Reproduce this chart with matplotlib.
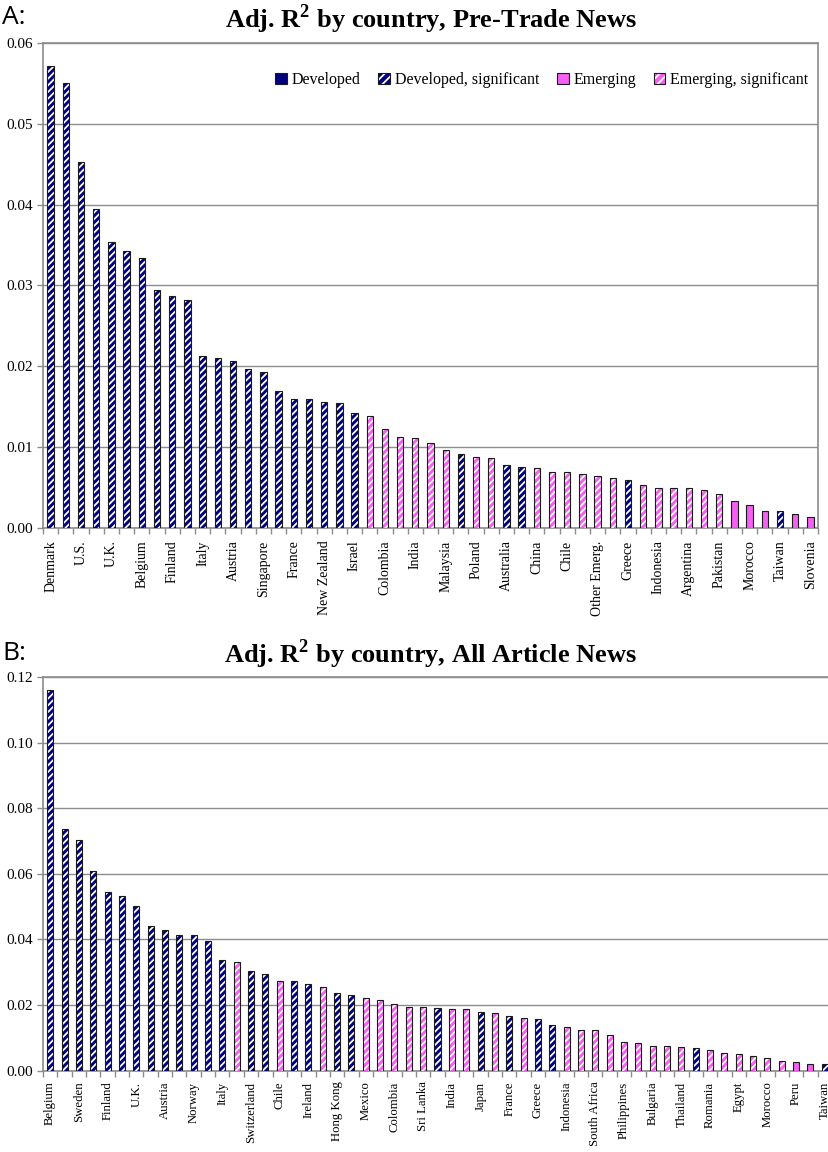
import matplotlib
matplotlib.use('Agg')
import matplotlib.pyplot as plt
import numpy as np
from matplotlib.patches import Patch
from matplotlib.ticker import FixedLocator, FormatStrFormatter

plt.rcParams['font.family'] = ['Liberation Serif', 'DejaVu Serif']
plt.rcParams['mathtext.fontset'] = 'custom'
plt.rcParams['mathtext.rm'] = 'Liberation Serif:bold'
plt.rcParams['mathtext.bf'] = 'Liberation Serif:bold'
plt.rcParams['hatch.linewidth'] = 1.3

NAVY = '#000080'
PINK = '#F55FF2'
GRAY = '#8c8c8c'

#%% data, panel A (Pre-Trade News)

a_names = ['Denmark', 'U.S.', 'U.K.', 'Belgium', 'Finland', 'Italy', 'Austria',
           'Singapore', 'France', 'New Zealand', 'Israel', 'Colombia', 'India',
           'Malaysia', 'Poland', 'Australia', 'China', 'Chile', 'Other Emerg.',
           'Greece', 'Indonesia', 'Argentina', 'Pakistan', 'Morocco', 'Taiwan',
           'Slovenia']
a_values = [0.0571, 0.0551, 0.0453, 0.0395, 0.0354, 0.0343, 0.0334, 0.0295,
            0.0287, 0.0282, 0.0213, 0.0210, 0.0207, 0.0197, 0.0193, 0.0169,
            0.0160, 0.0160, 0.0156, 0.0155, 0.0142, 0.0138, 0.0123, 0.0112,
            0.0111, 0.0105, 0.0097, 0.0091, 0.0088, 0.0086, 0.0078, 0.0075,
            0.0074, 0.0069, 0.0069, 0.0067, 0.0064, 0.0062, 0.0059, 0.0053,
            0.0050, 0.0050, 0.0050, 0.0047, 0.0042, 0.0033, 0.0028, 0.0021,
            0.0021, 0.0017, 0.0014]
a_groups = ['DS'] * 21 + ['ES'] * 6 + ['DS'] + ['ES'] * 2 + ['DS'] * 2 + \
           ['ES'] * 6 + ['DS'] + ['ES'] * 6 + ['E'] * 3 + ['DS'] + ['E'] * 2

#%% data, panel B (All Article News)

b_names = ['Belgium', 'Sweden', 'Finland', 'U.K.', 'Austria', 'Norway', 'Italy',
           'Switzerland', 'Chile', 'Ireland', 'Hong Kong', 'Mexico', 'Colombia',
           'Sri Lanka', 'India', 'Japan', 'France', 'Greece', 'Indonesia',
           'South Africa', 'Philippines', 'Bulgaria', 'Thailand', 'Romania',
           'Egypt', 'Morocco', 'Peru', 'Taiwan']
b_values = [0.1160, 0.0736, 0.0704, 0.0609, 0.0544, 0.0533, 0.0502, 0.0442,
            0.0428, 0.0413, 0.0413, 0.0395, 0.0336, 0.0330, 0.0304, 0.0295,
            0.0273, 0.0273, 0.0264, 0.0254, 0.0237, 0.0231, 0.0220, 0.0215,
            0.0203, 0.0195, 0.0193, 0.0190, 0.0189, 0.0187, 0.0180, 0.0177,
            0.0166, 0.0160, 0.0157, 0.0138, 0.0133, 0.0125, 0.0123, 0.0109,
            0.0088, 0.0085, 0.0075, 0.0074, 0.0071, 0.0069, 0.0064, 0.0052,
            0.0050, 0.0044, 0.0037, 0.0030, 0.0025, 0.0021, 0.0020]
b_groups = ['DS'] * 13 + ['ES'] + ['DS'] * 2 + ['ES'] + ['DS'] * 2 + ['ES'] + \
           ['DS'] * 2 + ['ES'] * 5 + ['DS'] + ['ES'] * 2 + ['DS'] + ['ES'] + \
           ['DS'] + ['ES'] + ['DS'] * 2 + ['ES'] * 9 + ['DS'] + ['ES'] * 6 + \
           ['E'] * 2 + ['DS']

legend_labels = ['Developed', 'Developed, significant', 'Emerging',
                 'Emerging, significant']

STYLE = {
    'D': (NAVY, False),
    'DS': (NAVY, True),
    'E': (PINK, False),
    'ES': (PINK, True),
}

#%%


def draw_panel(ax, values, groups, names, ymax, ystep, xmax, xfs, xpad):
    x = np.arange(len(values))
    for g, (color, hatched) in STYLE.items():
        idx = [i for i, gg in enumerate(groups) if gg == g]
        if not idx:
            continue
        xs = x[idx]
        vs = np.array(values)[idx]
        if hatched:
            ax.bar(xs, vs, width=0.42, color=color, edgecolor='white',
                   hatch='/////', linewidth=0, zorder=3)
        else:
            ax.bar(xs, vs, width=0.42, color=color, linewidth=0, zorder=3)
        ax.bar(xs, vs, width=0.42, fill=False, edgecolor='#1a1a1a',
               linewidth=0.8, zorder=4)

    ax.set_xlim(-0.5, xmax)
    ax.set_ylim(0, ymax)
    ax.set_yticks(np.arange(0, ymax + ystep / 2, ystep))
    ax.yaxis.set_major_formatter(FormatStrFormatter('%.2f'))
    ax.yaxis.grid(True, color=GRAY, linewidth=1.0, zorder=0)
    ax.set_axisbelow(True)

    ax.set_xticks(x[::2])
    ax.set_xticklabels(names, rotation=90, fontsize=xfs)
    ax.xaxis.set_minor_locator(FixedLocator(np.arange(len(values) + 1) - 0.5))
    ax.tick_params(axis='x', which='major', length=0, pad=xpad)
    ax.tick_params(axis='x', which='minor', length=4, color=GRAY, width=1)
    ax.tick_params(axis='y', length=4, color=GRAY, width=1, labelsize=11, pad=3)
    for sp in ax.spines.values():
        sp.set_color(GRAY)
        sp.set_linewidth(1.2)


W, H = 829, 1152
fig = plt.figure(figsize=(W / 100, H / 100), dpi=100)

ax1 = fig.add_axes([43 / W, 1 - 528 / H, (818 - 43) / W, (528 - 43) / H])
draw_panel(ax1, a_values, a_groups, a_names, 0.06, 0.01, len(a_values) - 0.5,
           10, 9)

ax2 = fig.add_axes([43 / W, 1 - 1070.5 / H, (832 - 43) / W, (1070.5 - 677.3) / H])
draw_panel(ax2, b_values, b_groups, b_names, 0.12, 0.02, len(b_values) - 0.5,
           9.2, 8)

fig.text(431 / W, 1 - 19 / H, r'Adj. R$^2$ by country, Pre-Trade News',
         fontsize=19, fontweight='bold', ha='center', va='center')
fig.text(431 / W, 1 - 654 / H, r'Adj. R$^2$ by country, All Article News',
         fontsize=19, fontweight='bold', ha='center', va='center')
fig.text(2 / W, 1 - 18 / H, 'A:', fontsize=19, family=['Open Sans', 'DejaVu Sans'],
         ha='left', va='center')
fig.text(2 / W, 1 - 653 / H, 'B:', fontsize=19, family=['Open Sans', 'DejaVu Sans'],
         ha='left', va='center')

# legend handles: fill + outline overlaid
handles = []
for g in ['D', 'DS', 'E', 'ES']:
    color, hatched = STYLE[g]
    if hatched:
        fill = Patch(facecolor=color, edgecolor='white', hatch='////', linewidth=0)
    else:
        fill = Patch(facecolor=color, linewidth=0)
    outline = Patch(fill=False, edgecolor='#1a1a1a', linewidth=0.8)
    handles.append((fill, outline))

ax1.legend(handles, legend_labels, ncol=4, frameon=False, fontsize=11.5,
           loc='upper right', bbox_to_anchor=(1.0, 0.96),
           handlelength=0.75, handleheight=0.75, handletextpad=0.3,
           columnspacing=1.1, borderaxespad=0.2)

fig.savefig('out.png', dpi=100)
